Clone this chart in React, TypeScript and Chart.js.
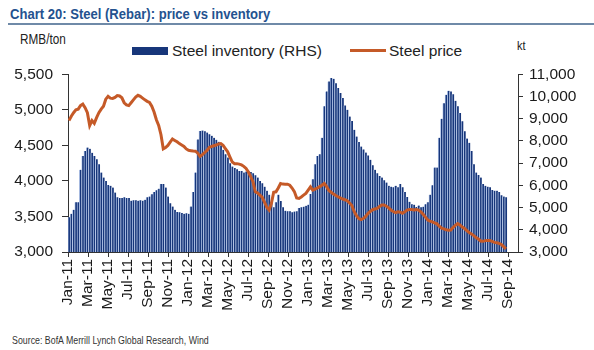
import React, { useEffect, useRef } from "react";
import { Chart, registerables } from "chart.js";

Chart.register(...registerables);

// X-axis tick labels, one every two months starting Jan-11
const tickLabels = [
  "Jan-11", "Mar-11", "May-11", "Jul-11", "Sep-11", "Nov-11",
  "Jan-12", "Mar-12", "May-12", "Jul-12", "Sep-12", "Nov-12",
  "Jan-13", "Mar-13", "May-13", "Jul-13", "Sep-13", "Nov-13",
  "Jan-14", "Mar-14", "May-14", "Jul-14", "Sep-14",
];

// weekly observations, first week ending a few days into Jan-11
const firstWeekDay = 3;
const daysPerMonth = 30.4375;

// Steel inventory (kt, RHS), weekly
const inventory = [
  4570, 4720, 4900, 5240, 5240, 6700, 7320, 7550, 7700, 7650,
  7470, 7320, 7180, 6950, 6580, 6350, 6200, 6020, 5980, 5900,
  5680, 5460, 5430, 5430, 5460, 5430, 5430, 5310, 5330, 5330,
  5310, 5330, 5310, 5350, 5460, 5500, 5600, 5700, 5780, 5850,
  6060, 6060, 5900, 5500, 5200, 5050, 4900, 4800, 4790, 4760,
  4720, 4750, 4720, 5050, 5700, 6580, 8070, 8450, 8470, 8440,
  8380, 8300, 8230, 8140, 8050, 7960, 7800, 7600, 7400, 7250,
  7000, 6850, 6780, 6730, 6650, 6650, 6580, 6620, 6650, 6600,
  6550, 6450, 6350, 6200, 6100, 5940, 5760, 5580, 5240, 5010,
  5240, 5580, 5300, 5010, 4860, 4830, 4830, 4790, 4820, 4830,
  4980, 5010, 5040, 5080, 5130, 5610, 6280, 6950, 7320, 7400,
  8140, 9560, 10230, 10680, 10830, 10800, 10600, 10380, 10160, 9930,
  9600, 9400, 9100, 8900, 8500, 8200, 7950, 7750, 7620, 7480,
  7350, 7150, 6900, 6700, 6550, 6420, 6350, 6230, 6130, 5980,
  5940, 5910, 5980, 5910, 6060, 5910, 5700, 5480, 5260, 5150,
  5130, 5030, 5090, 5010, 5040, 5150, 5240, 5580, 6000, 6800,
  6800, 8140, 9000, 9700, 10080, 10260, 10230, 10100, 9810, 9560,
  9260, 8890, 8440, 8110, 7920, 7550, 6950, 6580, 6470, 6355,
  6060, 5980, 5940, 5910, 5790, 5760, 5760, 5700, 5560, 5500, 5460,
];

// Steel (rebar) price (RMB/ton, LHS), weekly
const price = [
  4850, 4910, 4960, 5000, 5010, 5060, 5080, 5030, 4960, 4780,
  4850, 4810, 4890, 4960, 5010, 5050, 5150, 5190, 5165, 5160,
  5175, 5200, 5195, 5170, 5100, 5070, 5060, 5100, 5140, 5180,
  5205, 5190, 5165, 5140, 5120, 5105, 5050, 4970, 4860, 4780,
  4650, 4452, 4470, 4500, 4545, 4590, 4570, 4550, 4525, 4505,
  4485, 4450, 4430, 4425, 4420, 4418, 4390, 4345, 4370, 4400,
  4430, 4470, 4485, 4495, 4505, 4520, 4525, 4500, 4455, 4410,
  4336, 4265, 4243, 4243, 4236, 4225, 4205, 4175, 4125, 4060,
  3990, 3847, 3830, 3800, 3770, 3700, 3630, 3591, 3680, 3840,
  3847, 3900, 3964, 3955, 3954, 3954, 3940, 3900, 3850, 3760,
  3754, 3775, 3800, 3825, 3870, 3917, 3870, 3885, 3900, 3920,
  3940, 3965, 3920, 3865, 3840, 3815, 3795, 3777, 3760, 3745,
  3735, 3722, 3690, 3655, 3570, 3510, 3470, 3455, 3470, 3500,
  3540, 3570, 3595, 3605, 3614, 3640, 3661, 3661, 3645, 3620,
  3591, 3570, 3554, 3566, 3560, 3545, 3565, 3590, 3598, 3597,
  3591, 3598, 3590, 3565, 3530, 3490, 3450, 3435, 3425, 3410,
  3396, 3365, 3335, 3325, 3312, 3306, 3310, 3345, 3375, 3400,
  3380, 3350, 3330, 3300, 3275, 3255, 3230, 3205, 3182, 3155,
  3150, 3160, 3163, 3163, 3150, 3135, 3130, 3122, 3105, 3075, 3045,
];

const leftMin = 3000, leftMax = 5500, leftStep = 500;
const rightMin = 3000, rightMax = 11000, rightStep = 1000;
const monthSpan = 45;

const FONT = "'Liberation Sans', Arial, sans-serif";
const NAVY = "#17367a";
const LIGHT = "#b4c7ea";
const ORANGE = "#c55a28";
const AXIS = "#333333";

export default function App() {
  const ref = useRef<HTMLCanvasElement>(null);

  useEffect(() => {
    const xs = inventory.map((_, i) => (firstWeekDay + 7 * i) / daysPerMonth);
    const tickFont = { family: FONT, size: 15.5 };
    const chart = new Chart(ref.current as HTMLCanvasElement, {
      type: "bar",
      data: {
        datasets: [
          {
            type: "line",
            label: "Steel price",
            data: price.map((v, i) => ({ x: xs[i], y: v })),
            xAxisID: "x",
            yAxisID: "yL",
            borderColor: ORANGE,
            backgroundColor: ORANGE,
            borderWidth: 3,
            pointRadius: 0,
            tension: 0,
            order: 0,
          } as any,
          {
            type: "bar",
            label: "Steel inventory (RHS)",
            data: inventory.map((v, i) => ({ x: xs[i], y: v })),
            xAxisID: "x",
            yAxisID: "yR",
            backgroundColor: NAVY,
            borderColor: LIGHT,
            borderWidth: { top: 0, right: 0, bottom: 0, left: 0.9 },
            borderSkipped: "start",
            barPercentage: 1,
            categoryPercentage: 1,
            order: 1,
          } as any,
        ],
      },
      options: {
        animation: false,
        responsive: false,
        maintainAspectRatio: false,
        layout: { padding: { top: 17, left: 0, right: 0, bottom: 0 } },
        plugins: { legend: { display: false }, tooltip: { enabled: false } },
        scales: {
          x: {
            type: "linear",
            position: "bottom",
            min: 0,
            max: monthSpan,
            offset: false,
            afterBuildTicks: (s: any) => {
              s.ticks = tickLabels.map((_, i) => ({ value: i * 2 }));
            },
            afterFit: (s: any) => {
              s.height = 66;
            },
            ticks: {
              autoSkip: false,
              minRotation: 90,
              maxRotation: 90,
              padding: 2,
              color: "#1a1a1a",
              font: tickFont,
              callback: (_v: any, i: number) => tickLabels[i],
            },
            grid: { drawOnChartArea: false, offset: false, tickLength: 5, color: AXIS },
            border: { color: AXIS, width: 1 },
          },
          yL: {
            type: "linear",
            position: "left",
            min: leftMin,
            max: leftMax,
            afterFit: (s: any) => {
              s.width = 68;
            },
            ticks: { stepSize: leftStep, padding: 9, color: "#1a1a1a", font: tickFont },
            grid: { drawOnChartArea: false, tickLength: 6, color: AXIS },
            border: { color: AXIS, width: 1 },
          },
          yR: {
            type: "linear",
            position: "right",
            min: rightMin,
            max: rightMax,
            afterFit: (s: any) => {
              s.width = 76;
            },
            ticks: { stepSize: rightStep, padding: 6, color: "#1a1a1a", font: tickFont },
            grid: { drawOnChartArea: false, tickLength: 5, color: AXIS },
            border: { color: AXIS, width: 1 },
          },
        },
      } as any,
    });
    return () => chart.destroy();
  }, []);

  const narrow = (x: number, y: number, size: number, sx: number, extra: React.CSSProperties = {}) =>
    ({
      position: "absolute",
      left: x,
      top: y,
      fontFamily: FONT,
      fontSize: size,
      lineHeight: 1,
      whiteSpace: "nowrap",
      transform: `scaleX(${sx})`,
      transformOrigin: "left top",
      ...extra,
    } as React.CSSProperties);

  const legendText: React.CSSProperties = {
    position: "absolute",
    top: 43,
    fontFamily: FONT,
    fontSize: 15.5,
    lineHeight: 1,
    color: "#222",
    whiteSpace: "nowrap",
  };

  return (
    <div style={{ position: "absolute", left: 0, top: 0, width: 594, height: 350, background: "#fff", overflow: "hidden" }}>
      <div style={narrow(10, 6, 15, 0.87, { color: "#24528f", fontWeight: "bold" })}>
        Chart 20: Steel (Rebar): price vs inventory
      </div>
      <div style={{ position: "absolute", left: 8, top: 23, width: 586, height: 2, background: "#6f8aa8" }} />
      <div style={narrow(20, 32, 14, 0.84, { color: "#222" })}>RMB/ton</div>
      <div style={narrow(517, 39, 13, 0.84, { color: "#222" })}>kt</div>

      <div style={{ position: "absolute", left: 132, top: 47, width: 36, height: 8, background: NAVY }} />
      <div style={{ ...legendText, left: 172 }}>Steel inventory (RHS)</div>
      <div style={{ position: "absolute", left: 350, top: 49, width: 36, height: 3, background: ORANGE }} />
      <div style={{ ...legendText, left: 389 }}>Steel price</div>

      <canvas ref={ref} width={594} height={262} style={{ position: "absolute", left: 0, top: 56, width: 594, height: 262 }} />

      <div style={narrow(12, 335, 10.5, 0.84, { color: "#333" })}>
        Source: BofA Merrill Lynch Global Research, Wind
      </div>
    </div>
  );
}
